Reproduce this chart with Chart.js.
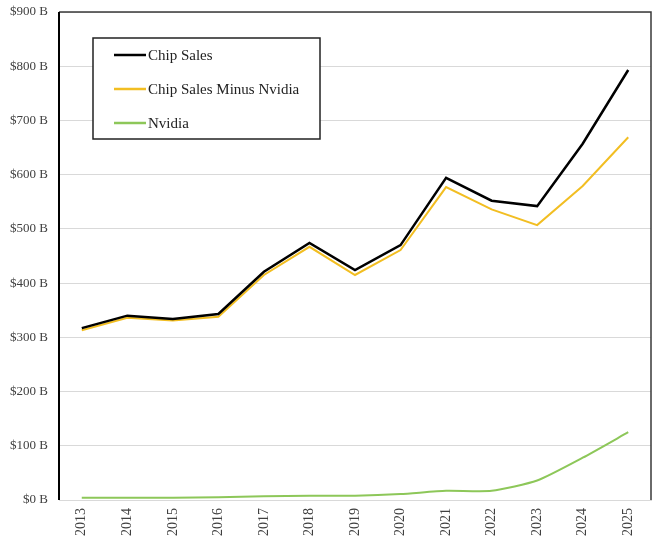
<!DOCTYPE html>
<html>
<head>
<meta charset="utf-8">
<script src="https://cdn.jsdelivr.net/npm/chart.js@4.4.1/dist/chart.umd.min.js"></script>
<style>
  html, body { margin: 0; padding: 0; background: #fff; }
  #wrap { width: 660px; height: 549px; }
</style>
</head>
<body>
<div id="wrap"><canvas id="chart" width="660" height="549"></canvas></div>
<script>
const YEARS = ['2013', '2014', '2015', '2016', '2017', '2018', '2019', '2020', '2021', '2022', '2023', '2024', '2025'];
const CHIP_SALES = [317, 340, 334, 343, 421, 474, 424, 470, 594, 552, 542, 657, 793];
const CHIP_MINUS_NVIDIA = [313, 336, 331, 338, 415, 467, 415, 461, 577, 536, 507, 579, 669];
const NVIDIA = [4, 4, 4, 5, 7, 8, 8, 11, 17, 17, 36, 78, 125];

const SERIF = '"Liberation Serif", "DejaVu Serif", serif';

// frame round the plot: dark top/left/right, bottom stays as grid line
const framePlugin = {
    id: 'frame',
    afterDraw(chart) {
        const { ctx, chartArea: a } = chart;
        ctx.save();
        ctx.strokeStyle = '#3a3a3a';
        ctx.lineWidth = 1.5;
        ctx.beginPath();
        ctx.moveTo(a.left, a.top);
        ctx.lineTo(a.right, a.top);
        ctx.lineTo(a.right, a.bottom);
        ctx.stroke();
        ctx.strokeStyle = '#000';
        ctx.lineWidth = 2;
        ctx.beginPath();
        ctx.moveTo(a.left, a.top);
        ctx.lineTo(a.left, a.bottom);
        ctx.stroke();
        ctx.restore();
    }
};

// legend box inside the plot, top-left
const boxLegend = {
    id: 'boxLegend',
    afterDraw(chart) {
        const ctx = chart.ctx;
        const x = 93, y = 38, w = 227, h = 101;
        ctx.save();
        ctx.fillStyle = '#fff';
        ctx.fillRect(x, y, w, h);
        ctx.strokeStyle = '#222';
        ctx.lineWidth = 1.5;
        ctx.strokeRect(x, y, w, h);
        ctx.font = '15px ' + SERIF;
        ctx.textBaseline = 'middle';
        chart.data.datasets.forEach((ds, i) => {
            const cy = y + 17 + i * 34;
            ctx.strokeStyle = ds.borderColor;
            ctx.lineWidth = 2.5;
            ctx.beginPath();
            ctx.moveTo(x + 21, cy);
            ctx.lineTo(x + 53, cy);
            ctx.stroke();
            ctx.fillStyle = '#222';
            ctx.fillText(ds.label, x + 55, cy + 1);
        });
        ctx.restore();
    }
};

new Chart(document.getElementById('chart'), {
    type: 'line',
    data: {
        labels: YEARS,
        datasets: [
            {
                label: 'Chip Sales',
                data: CHIP_SALES,
                borderColor: '#000000',
                borderWidth: 2.5,
                pointRadius: 0,
                tension: 0
            },
            {
                label: 'Chip Sales Minus Nvidia',
                data: CHIP_MINUS_NVIDIA,
                borderColor: '#f2be22',
                borderWidth: 2,
                pointRadius: 0,
                tension: 0
            },
            {
                label: 'Nvidia',
                data: NVIDIA,
                borderColor: '#8dc759',
                borderWidth: 2,
                pointRadius: 0,
                tension: 0.2
            }
        ]
    },
    options: {
        responsive: false,
        animation: false,
        layout: { padding: { top: 12, right: 9, left: 0, bottom: 0 } },
        scales: {
            x: {
                offset: true,
                grid: { display: false, drawTicks: false },
                border: { display: true, color: '#d9d9d9', width: 1 },
                ticks: {
                    minRotation: 90,
                    maxRotation: 90,
                    padding: 8,
                    color: '#404040',
                    font: { family: SERIF, size: 14 }
                },
                afterFit: s => { s.height = 49; s.paddingLeft = 0; s.paddingRight = 0; }
            },
            y: {
                min: 0,
                max: 900,
                grid: { color: '#d9d9d9', lineWidth: 1, drawTicks: false },
                border: { display: false },
                ticks: {
                    stepSize: 100,
                    padding: 11,
                    color: '#404040',
                    font: { family: SERIF, size: 13 },
                    callback: v => '$' + v + ' B'
                },
                afterFit: s => { s.width = 59; s.paddingTop = 0; s.paddingBottom = 0; }
            }
        },
        plugins: {
            legend: { display: false },
            tooltip: { enabled: false }
        }
    },
    plugins: [framePlugin, boxLegend]
});
</script>
</body>
</html>
